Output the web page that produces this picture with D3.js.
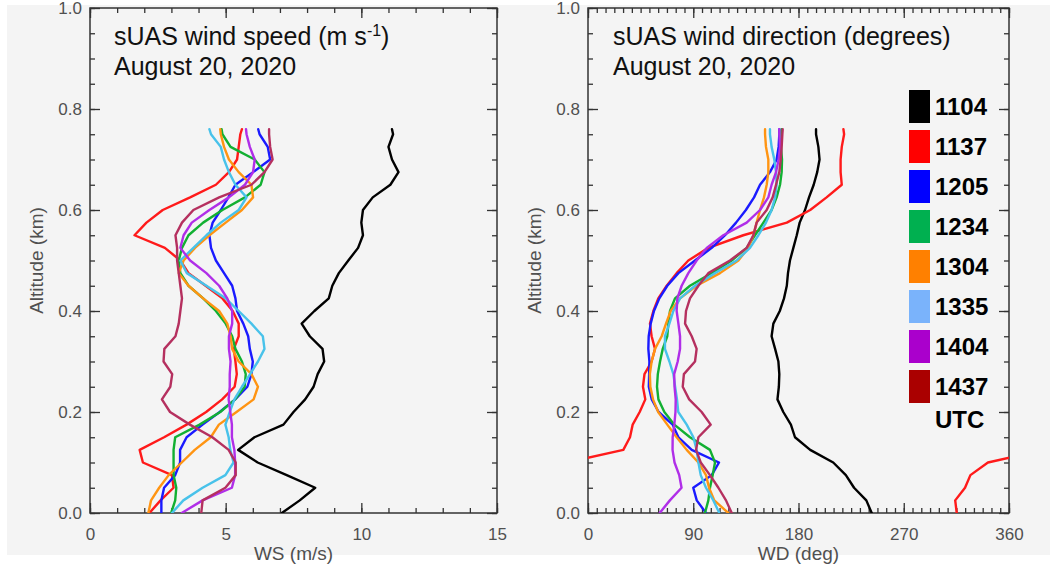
<!DOCTYPE html>
<html>
<head>
<meta charset="utf-8">
<script src="https://cdn.jsdelivr.net/npm/d3@7"></script>
<style>
  body { margin: 0; background: #ffffff; }
  text { font-family: "Liberation Sans", Arial, sans-serif; }
</style>
</head>
<body>
<script>
// altitude levels (km), shared by every profile
var alt = [0.000, 0.025, 0.050, 0.075, 0.100, 0.125, 0.150, 0.175, 0.200, 0.225,
           0.250, 0.275, 0.300, 0.325, 0.350, 0.375, 0.400, 0.425, 0.450, 0.475,
           0.500, 0.525, 0.550, 0.575, 0.600, 0.625, 0.650, 0.675, 0.700, 0.725,
           0.750, 0.760];

var flights = ["1104", "1137", "1205", "1234", "1304", "1335", "1404", "1437"];

// wind speed (m/s)
var ws1104 = [7.07, 7.73, 8.30, 7.25, 6.18, 5.46, 6.06, 7.13, 7.50, 7.93, 8.24, 8.39, 8.63, 8.57, 8.10, 7.80,
              8.27, 8.80, 8.93, 9.17, 9.52, 9.88, 10.06, 10.00, 10.06, 10.42, 11.07, 11.37, 11.13, 11.00, 11.17, 11.13];
var ws1137 = [2.19, 2.60, 3.08, 3.02, 1.95, 1.83, 2.73, 3.56, 4.28, 4.87, 5.33, 5.41, 5.36, 5.30, 5.48, 5.48,
              5.26, 4.88, 4.26, 3.63, 3.33, 2.76, 1.64, 2.08, 2.68, 3.69, 4.64, 5.12, 5.42, 5.48, 5.54, 5.60];
var ws1205 = [2.63, 2.63, 2.73, 3.14, 3.32, 3.32, 3.56, 4.15, 4.78, 5.35, 5.80, 5.95, 6.00, 5.89, 5.83, 5.65,
              5.42, 5.36, 5.24, 4.94, 4.64, 4.46, 4.40, 4.52, 4.82, 5.10, 5.36, 6.01, 6.64, 6.55, 6.25, 6.20];
var ws1234 = [2.99, 3.14, 3.18, 3.08, 3.08, 3.08, 3.14, 4.04, 4.80, 5.35, 5.70, 5.74, 5.60, 5.36, 5.24, 5.00,
              4.64, 4.17, 3.63, 3.33, 3.27, 3.39, 3.63, 4.17, 4.88, 5.71, 6.29, 6.43, 6.07, 5.18, 4.88, 4.85];
var ws1304 = [2.15, 2.25, 2.55, 2.90, 3.38, 3.86, 4.45, 4.75, 5.40, 6.03, 6.19, 5.95, 5.48, 5.24, 5.18, 5.06,
              4.76, 4.17, 3.63, 3.27, 3.45, 3.87, 4.40, 5.00, 5.60, 6.01, 5.95, 5.48, 5.12, 4.94, 4.82, 4.80];
var ws1335 = [3.02, 3.44, 4.15, 4.99, 5.29, 5.17, 5.11, 4.99, 5.15, 5.32, 5.60, 5.90, 6.19, 6.43, 6.37, 5.95,
              5.48, 5.00, 4.29, 3.57, 3.33, 3.81, 4.29, 4.82, 5.48, 5.77, 5.36, 5.12, 4.94, 4.82, 4.46, 4.40];
var ws1404 = [3.38, 4.15, 5.23, 5.35, 5.35, 5.32, 5.23, 5.23, 5.17, 5.11, 5.15, 5.15, 5.18, 5.12, 5.12, 5.24,
              5.24, 5.06, 4.76, 4.29, 3.69, 3.33, 3.45, 3.75, 4.40, 5.12, 5.71, 6.01, 6.07, 5.89, 5.77, 5.75];
var ws1437 = [4.10, 4.15, 4.99, 5.37, 5.37, 5.11, 4.51, 3.68, 2.95, 2.65, 2.96, 3.03, 2.71, 2.74, 3.15, 3.27,
              3.33, 3.39, 3.33, 3.27, 3.21, 3.21, 3.15, 3.39, 3.81, 4.76, 5.95, 6.43, 6.73, 6.64, 6.60, 6.60];

// wind direction (deg)
var wd1104 = [242.6, 238.0, 227.5, 220.5, 209.7, 190.0, 177.0, 173.5, 167.0, 162.0, 163.2, 163.6, 162.8, 160.0, 157.0, 158.5,
              164.0, 167.6, 170.0, 171.0, 172.7, 175.6, 178.5, 181.0, 185.6, 189.0, 193.0, 196.0, 198.0, 197.0, 195.0, 195.0];
var wd1137 = [315.3, 314.0, 322.4, 327.0, 342.0, 30.2, 35.9, 38.2, 44.2, 49.0, 47.0, 48.3, 54.4, 57.3, 54.4, 53.0,
              55.9, 60.1, 67.3, 75.8, 85.8, 102.9, 132.8, 170.0, 190.0, 204.0, 217.0, 216.0, 216.0, 217.0, 219.0, 218.4];
var wd1205 = [100.9, 93.0, 90.0, 105.8, 112.0, 88.7, 77.3, 72.4, 60.4, 54.5, 52.0, 52.3, 52.5, 51.6, 51.9, 53.6,
              56.4, 61.0, 67.8, 77.3, 91.5, 105.8, 117.2, 126.6, 135.0, 142.0, 147.1, 155.6, 161.3, 163.0, 163.6, 163.6];
var wd1234 = [100.0, 102.9, 104.3, 106.6, 108.6, 104.3, 87.2, 73.8, 65.3, 60.2, 59.0, 59.7, 61.6, 63.9, 67.8, 68.7,
              70.1, 74.4, 87.2, 105.8, 122.9, 135.7, 142.8, 150.0, 157.0, 161.3, 164.2, 165.6, 165.9, 165.0, 165.6, 165.6];
var wd1304 = [120.0, 108.0, 103.5, 100.9, 94.4, 84.4, 75.8, 67.8, 60.0, 55.6, 53.3, 52.9, 54.4, 57.3, 63.0, 66.7,
              70.7, 78.7, 92.9, 112.9, 128.6, 137.1, 141.4, 144.2, 147.1, 150.5, 152.8, 154.2, 154.2, 152.2, 151.4, 151.4];
var wd1335 = [112.3, 107.2, 100.9, 96.4, 94.4, 92.9, 90.1, 84.4, 77.2, 76.1, 74.5, 73.0, 69.6, 65.8, 65.8, 69.6,
              73.0, 78.7, 91.5, 108.6, 127.1, 138.5, 145.7, 152.2, 157.0, 160.0, 161.3, 160.8, 159.3, 157.0, 155.6, 155.6];
var wd1404 = [61.3, 70.0, 80.0, 78.0, 74.0, 72.3, 72.4, 73.8, 74.8, 75.0, 74.0, 73.7, 76.7, 78.7, 78.7, 77.3,
              75.8, 76.4, 80.1, 85.8, 92.9, 101.5, 115.7, 135.7, 147.1, 154.2, 157.0, 160.8, 163.0, 164.2, 163.6, 163.6];
var wd1437 = [122.9, 118.0, 111.5, 104.3, 96.4, 92.4, 94.4, 104.9, 97.2, 86.5, 81.0, 82.0, 91.5, 92.9, 88.7, 83.0,
              83.8, 87.2, 94.4, 102.9, 121.4, 135.7, 141.4, 144.2, 152.8, 157.9, 160.8, 163.6, 164.8, 165.6, 166.2, 166.5];

var wsSeries = [ws1104, ws1137, ws1205, ws1234, ws1304, ws1335, ws1404, ws1437];
var wdSeries = [wd1104, wd1137, wd1205, wd1234, wd1304, wd1335, wd1404, wd1437];

var lineColors = ["#000000", "#ff1a1a", "#1a1aff", "#12b032", "#ff9412", "#48c2ea", "#b02ee8", "#b5305f"];
var boxColors = ["#000000", "#ff0000", "#0000ff", "#00b050", "#ff8000", "#7ab3fb", "#aa00cc", "#aa0000"];

var width = 1056, height = 564;

var svg = d3.select("body")
    .append("svg")
    .attr("width", width)
    .attr("height", height);

svg.append("rect")
    .attr("x", 7).attr("y", 5)
    .attr("width", 1043).attr("height", 550)
    .attr("fill", "#f4f4f4");

var y = d3.scaleLinear().domain([0, 1]).range([513, 8]);

function drawPanel(id, x, majors, minorStep, xTitle, series, wrap) {
    var x0 = x.range()[0], x1 = x.range()[1];
    var y0 = y.range()[0], y1 = y.range()[1];
    var g = svg.append("g");

    svg.append("clipPath").attr("id", "clip" + id)
        .append("rect")
        .attr("x", x0).attr("y", y1)
        .attr("width", x1 - x0).attr("height", y0 - y1);

    var dom = x.domain();
    var xMinor = d3.range(dom[0], dom[1] + 1e-9, minorStep);
    var yMinor = d3.range(0, 1.0001, 0.05);

    function axis(a, pos, horiz, ticks, size, fmt) {
        g.append("g")
            .attr("transform", horiz ? "translate(0," + pos + ")" : "translate(" + pos + ",0)")
            .call(a.tickValues(ticks).tickSize(size).tickPadding(horiz ? 15 : 8).tickFormat(fmt))
            .call(function (s) { s.select(".domain").remove(); })
            .call(function (s) {
                s.selectAll("line").attr("stroke", "#333").attr("stroke-width", 1.3);
                s.selectAll("text").attr("fill", "#505050").style("font-size", "17px")
                    .style("font-family", "Liberation Sans, Arial, sans-serif");
            });
    }
    var none = function () { return ""; };

    // minor ticks all four sides
    axis(d3.axisBottom(x), y0, true, xMinor, -5, none);
    axis(d3.axisTop(x), y1, true, xMinor, -5, none);
    axis(d3.axisLeft(y), x0, false, yMinor, -5, none);
    axis(d3.axisRight(y), x1, false, yMinor, -5, none);
    // major ticks with labels on bottom / left
    axis(d3.axisBottom(x), y0, true, majors, -10, d3.format("d"));
    axis(d3.axisTop(x), y1, true, majors, -10, none);
    axis(d3.axisLeft(y), x0, false, [0, 0.2, 0.4, 0.6, 0.8, 1.0], -10, d3.format(".1f"));
    axis(d3.axisRight(y), x1, false, [0, 0.2, 0.4, 0.6, 0.8, 1.0], -10, none);

    g.append("rect")
        .attr("x", x0).attr("y", y1)
        .attr("width", x1 - x0).attr("height", y0 - y1)
        .attr("fill", "none")
        .attr("stroke", "#333")
        .attr("stroke-width", 1.5);

    var traces = svg.append("g").attr("clip-path", "url(#clip" + id + ")");

    series.forEach(function (vals, i) {
        var v = vals.slice();
        var shifts = [0];
        if (wrap) {
            // unwrap across 0/360 so the profile stays continuous
            for (var k = 1; k < v.length; k++) {
                while (v[k] - v[k - 1] > 180) v[k] -= 360;
                while (v[k] - v[k - 1] < -180) v[k] += 360;
            }
            shifts = [-360, 0, 360];
        }
        shifts.forEach(function (sh) {
            traces.append("path")
                .datum(v)
                .attr("fill", "none")
                .attr("stroke", lineColors[i])
                .attr("stroke-width", 2.4)
                .attr("stroke-linejoin", "round")
                .attr("stroke-linecap", "round")
                .attr("d", d3.line()
                    .x(function (d) { return x(d + sh); })
                    .y(function (d, j) { return y(alt[j]); }));
        });
    });

    // axis titles
    svg.append("text")
        .attr("x", (x0 + x1) / 2)
        .attr("y", 560)
        .attr("text-anchor", "middle")
        .attr("fill", "#505050")
        .style("font-size", "19px")
        .text(xTitle);

    svg.append("text")
        .attr("text-anchor", "middle")
        .attr("transform", "translate(" + (x0 - 47) + "," + ((y0 + y1) / 2) + ")rotate(-90)")
        .attr("fill", "#505050")
        .style("font-size", "19px")
        .text("Altitude (km)");
}

var xWS = d3.scaleLinear().domain([0, 15]).range([90, 497]);
var xWD = d3.scaleLinear().domain([0, 360]).range([588, 1009]);

drawPanel("ws", xWS, [0, 5, 10, 15], 1, "WS (m/s)", wsSeries, false);
drawPanel("wd", xWD, [0, 90, 180, 270, 360], 7.5, "WD (deg)", wdSeries, true);

// panel titles
var t1 = svg.append("text").attr("x", 114).attr("y", 45)
    .attr("fill", "#111").style("font-size", "25px");
t1.append("tspan").text("sUAS wind speed (m s");
t1.append("tspan").attr("dy", -9).style("font-size", "16px").text("-1");
t1.append("tspan").attr("dy", 9).text(")");
svg.append("text").attr("x", 114).attr("y", 75)
    .attr("fill", "#111").style("font-size", "25px")
    .text("August 20, 2020");

svg.append("text").attr("x", 613).attr("y", 45)
    .attr("fill", "#111").style("font-size", "25px")
    .text("sUAS wind direction (degrees)");
svg.append("text").attr("x", 613).attr("y", 75)
    .attr("fill", "#111").style("font-size", "25px")
    .text("August 20, 2020");

// legend
var legend = svg.append("g");
flights.forEach(function (f, i) {
    legend.append("rect")
        .attr("x", 909).attr("y", 90 + i * 40)
        .attr("width", 21).attr("height", 33)
        .attr("fill", boxColors[i]);
    legend.append("text")
        .attr("x", 935).attr("y", 115 + i * 40)
        .attr("fill", "#000")
        .style("font-size", "24px")
        .style("font-weight", "bold")
        .text(f);
});
legend.append("text")
    .attr("x", 935).attr("y", 428)
    .attr("fill", "#000")
    .style("font-size", "24px")
    .style("font-weight", "bold")
    .text("UTC");
</script>
</body>
</html>
